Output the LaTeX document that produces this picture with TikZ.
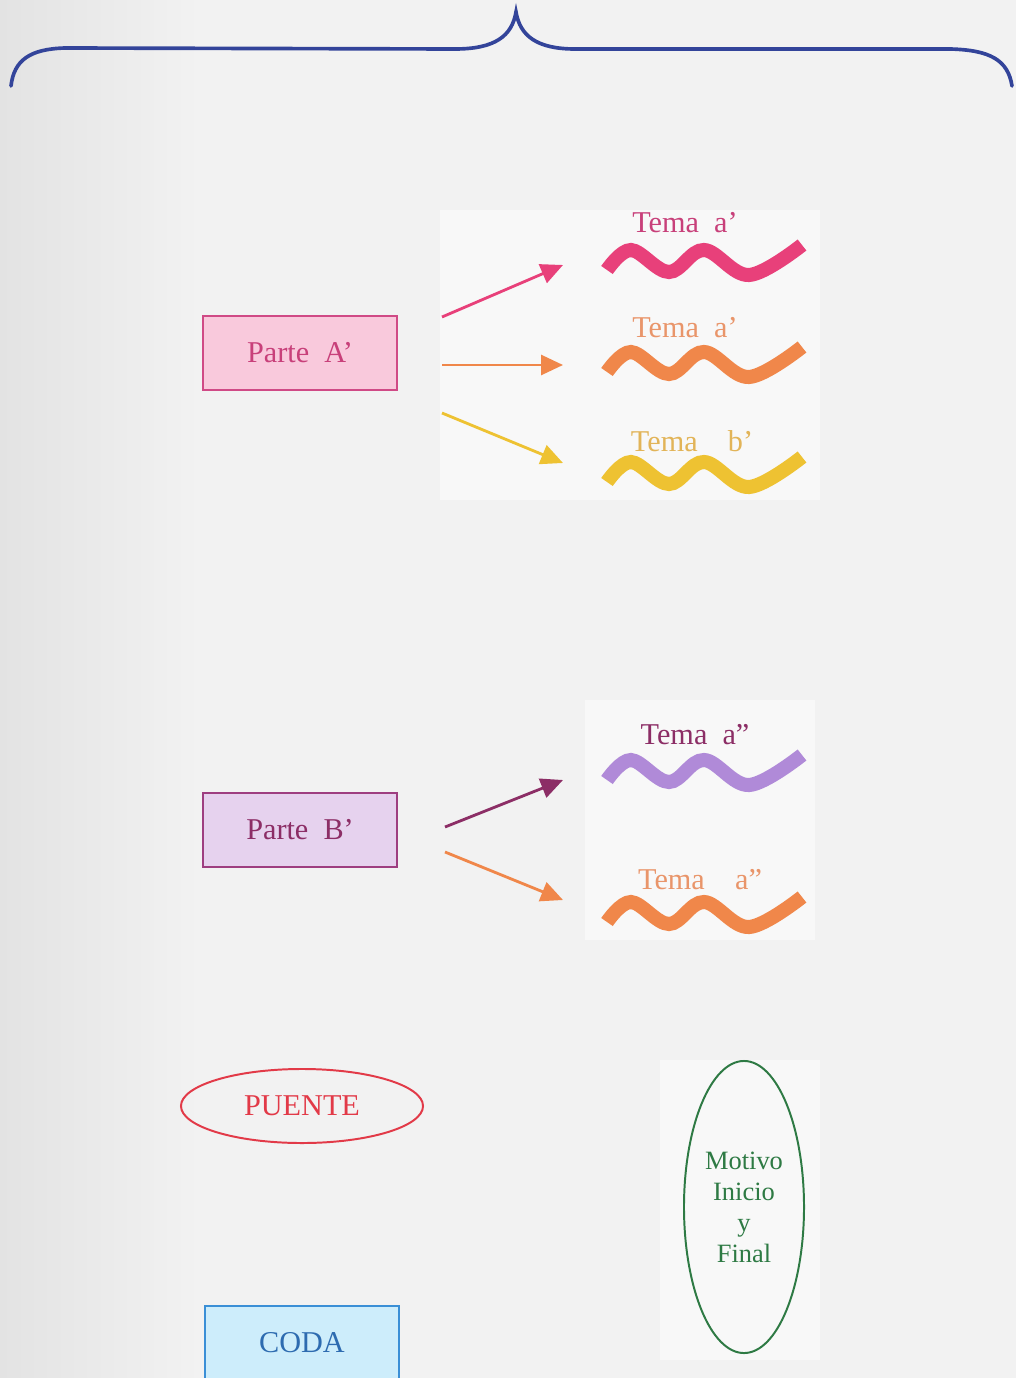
\documentclass[tikz,border=0pt]{standalone}
\usepackage{fontspec}
\setmainfont{Liberation Serif}
\usepackage{tikz}
\usetikzlibrary{arrows.meta,shapes.geometric}

\definecolor{papergray}{HTML}{F2F2F2}
\definecolor{paperdark}{HTML}{E3E3E3}
\definecolor{paperlight}{HTML}{F8F8F8}
\definecolor{bracecol}{HTML}{33449A}
\definecolor{pinkwave}{HTML}{E8407A}
\definecolor{pinktext}{HTML}{C8407A}
\definecolor{pinkfill}{HTML}{F9C9DC}
\definecolor{pinkline}{HTML}{D04A86}
\definecolor{orangewave}{HTML}{F0874A}
\definecolor{orangetext}{HTML}{E9956A}
\definecolor{yellowwave}{HTML}{EEC232}
\definecolor{yellowtext}{HTML}{E2B458}
\definecolor{purplewave}{HTML}{B08AD8}
\definecolor{purpletext}{HTML}{8C2E66}
\definecolor{purplefill}{HTML}{E6D2EE}
\definecolor{purpleline}{HTML}{9E3E80}
\definecolor{puentered}{HTML}{E23A48}
\definecolor{motivogreen}{HTML}{2E7A44}
\definecolor{codafill}{HTML}{CDEDFB}
\definecolor{codaline}{HTML}{3A8FD6}
\definecolor{codatext}{HTML}{2D6BB0}

\begin{document}
\begin{tikzpicture}[x=0.025cm,y=-0.025cm,
		lbl/.style={font=\fontsize{21.5}{26}\selectfont,inner sep=0pt},
		parte/.style={lbl,draw,line width=1.4pt,minimum width=4.85cm,minimum height=1.85cm},
		oval/.style={lbl,ellipse,draw,line width=1.4pt,inner sep=0pt},
		flecha/.style={line width=2pt,-{Triangle[length=5.5mm,width=5mm]}},
		onda/.style={line width=10pt,line cap=butt}]
		\useasboundingbox (0,0) rectangle (1016,1378);
		\clip (0,0) rectangle (1016,1378);
		
		% Paper of the scan
		\fill[papergray] (0,0) rectangle (1016,1378);
		\shade[left color=paperdark,right color=papergray] (0,0) rectangle (200,1378);
		\fill[paperlight] (440,210) rectangle (820,500);
		\fill[paperlight] (585,700) rectangle (815,940);
		\fill[paperlight] (660,1060) rectangle (820,1360);
		
		% Brace on top
		\draw[bracecol,line width=2.6pt,line cap=round]
			(11,86) .. controls (14,60) and (30,49) .. (65,48) -- (455,49)
			.. controls (495,49) and (512,36) .. (516,12)
			.. controls (520,36) and (537,49) .. (575,49) -- (950,49)
			.. controls (990,50) and (1008,60) .. (1012,86);
		
		% Parte A'
		\node[parte,fill=pinkfill,draw=pinkline,text=pinktext] (pa) at (300,353) {Parte~~A'};
		
		% Parte B'
		\node[parte,fill=purplefill,draw=purpleline,text=purpletext] (pb) at (300,830) {Parte~~B'};
		
		% Puente, coda and motivo
		\node[oval,draw=puentered,text=puentered,minimum width=6.05cm,minimum height=1.85cm] (puente) at (302,1106) {PUENTE};
		\node[parte,fill=codafill,draw=codaline,text=codatext] (coda) at (302,1343) {CODA};
		\node[oval,draw=motivogreen,text=motivogreen,minimum width=3cm,minimum height=7.3cm,
			align=center,font=\fontsize{18.8}{22}\selectfont] (motivo) at (744,1207) {Motivo\\Inicio\\y\\Final};
		
		% Waves (left ends)
		\foreach \y/\col in {270/pinkwave,372/orangewave,482/yellowwave,780/purplewave,922/orangewave}
			\draw[onda,\col,shift={(607,\y)}] plot[smooth,tension=0.6]
				coordinates {(0,0) (24,-20) (62,2) (97,-20) (142,5) (195,-25)};
		
		% Theme labels
		\node[lbl,text=pinktext] (tema1) at (685,223) {Tema~~a'};
		\node[lbl,text=orangetext] (tema2) at (685,328) {Tema~~a'};
		\node[lbl,text=yellowtext] (tema3) at (692,441) {Tema\hspace{1em}b'};
		\node[lbl,text=purpletext] (tema4) at (695,735) {Tema~~a''};
		\node[lbl,text=orangetext] (tema5) at (700,880) {Tema\hspace{1em}a''};
		
		% Arrow ends
		\coordinate (pa1) at (442,317);
		\coordinate (pa2) at (442,365);
		\coordinate (pa3) at (442,413);
		\coordinate (pb1) at (445,827);
		\coordinate (pb2) at (445,852);
		\coordinate (w1) at (563,265);
		\coordinate (w2) at (563,365);
		\coordinate (w3) at (563,463);
		\coordinate (w4) at (563,780);
		\coordinate (w5) at (563,900);
		
		% Arrows
		\draw[flecha,pinkwave] (pa1) -- (w1);
		\draw[flecha,orangewave] (pa2) -- (w2);
		\draw[flecha,yellowwave] (pa3) -- (w3);
		\draw[flecha,purpletext] (pb1) -- (w4);
		\draw[flecha,orangewave] (pb2) -- (w5);
	\end{tikzpicture}
\end{document}
